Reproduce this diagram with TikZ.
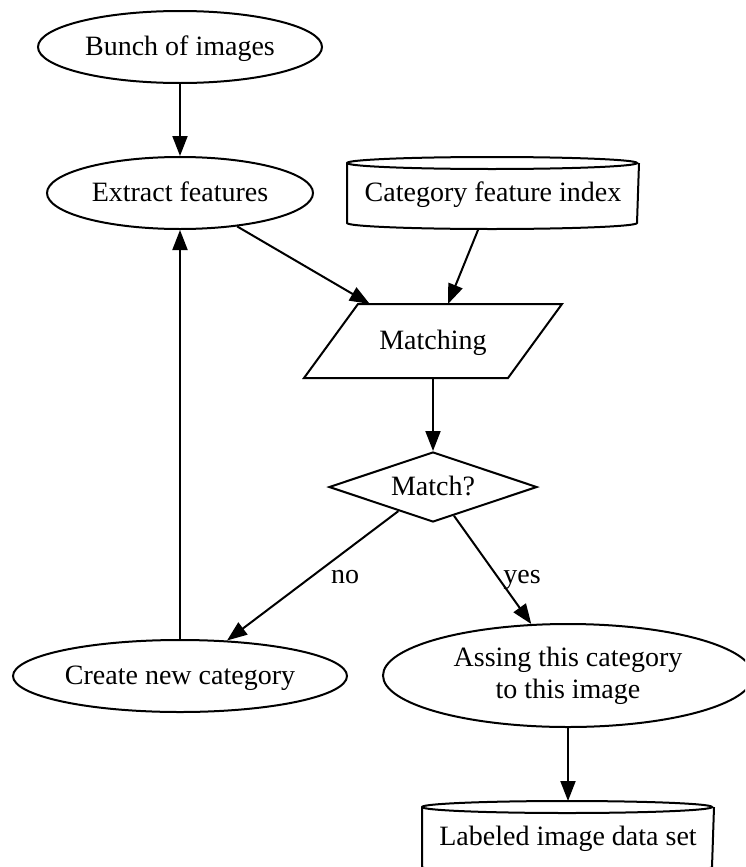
\documentclass[tikz,border=0pt]{standalone}
\usepackage{fontspec}
\setmainfont{Liberation Serif}
\usetikzlibrary{shapes.geometric,arrows.meta,calc}

\tikzset{
  base/.style={font=\fontsize{14pt}{16pt}\selectfont, inner sep=0pt, line width=1pt},
  oneline/.style={text height=11pt, text depth=3pt},
  oval/.style={base, oneline, ellipse, draw},
  ovaltwo/.style={base, ellipse, draw, align=center},
  dbshape/.style={base, oneline, rectangle, minimum width=145pt, minimum height=35pt},
  ioshape/.style={base, oneline, rectangle, minimum width=128pt, minimum height=36pt},
  decision/.style={base, oneline, diamond, aspect=3, draw, minimum width=104pt, minimum height=35pt},
  arr/.style={line width=1pt, -{Triangle[length=10pt,width=7.5pt]}},
  outline/.style={line width=1pt},
  edgelabel/.style={font=\fontsize{14pt}{16pt}\selectfont, inner sep=0pt, anchor=base}
}

\begin{document}
\begin{tikzpicture}[x=0.5pt,y=-0.5pt]
  \useasboundingbox (0,0) rectangle (745,867);
  \clip (0,0) rectangle (745,867);

  % nodes
  \node[oval, minimum width=142pt, minimum height=36pt] (bunch) at (180,47) {Bunch of images};
  \node[oval, minimum width=133pt, minimum height=36pt] (ext) at (180,193) {Extract features};
  \node[dbshape] (cfi) at (493,193) {Category feature index};
  \node[ioshape] (m) at (433,341) {Matching};
  \node[decision] (d) at (433,487) {Match?};
  \node[oval, minimum width=167pt, minimum height=36pt] (cnc) at (180,676) {Create new category};
  \node[ovaltwo, minimum width=185pt, minimum height=51.5pt] (as) at (568,675.5) {Assing this category\\to this image};
  \node[dbshape] (lid) at (568,837) {Labeled image data set};

  % cylinder outlines
  \foreach \c in {cfi,lid}{
    \draw[outline] ([yshift=-3pt]\c.north west)
        arc[start angle=180, end angle=360, x radius=72.5pt, y radius=3pt]
        arc[start angle=0, end angle=180, x radius=72.5pt, y radius=3pt]
        -- ([yshift=3pt]\c.south west)
        arc[start angle=180, end angle=360, x radius=72.5pt, y radius=3pt]
        -- ([yshift=-3pt]\c.north east);
  }

  % parallelogram outline
  \draw[outline, line join=miter] ([xshift=27pt]m.north west) -- (m.north east)
      -- ([xshift=-27pt]m.south east) -- (m.south west) -- cycle;

  % connectors
  \draw[arr] (bunch) -- (ext);
  \draw[arr] (ext) -- (m);
  \draw[arr] (cfi) -- (m);
  \draw[arr] (m) -- (d);
  \coordinate (dno) at ($(d.west)!0.67!(d.south)$);
  \coordinate (dyes) at ($(d.south)!0.2!(d.east)$);
  \draw[arr] (dno) -- (cnc);
  \draw[arr] (dyes) -- (as);
  \draw[arr] (cnc) -- (ext);
  \draw[arr] (as) -- (lid);

  % edge labels
  \node[edgelabel] (nolab) at (345,583) {no};
  \node[edgelabel] (yeslab) at (522,583) {yes};
\end{tikzpicture}
\end{document}
